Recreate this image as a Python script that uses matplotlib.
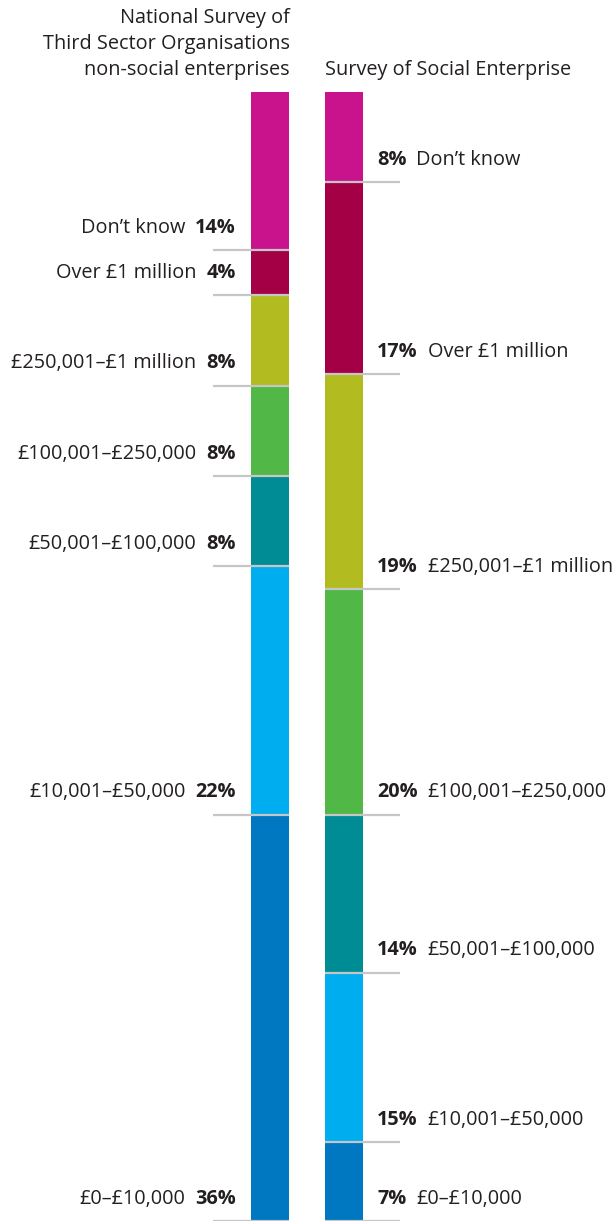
import matplotlib.pyplot as plt

# bands, bottom to top
bands = ["£0–£10,000", "£10,001–£50,000", "£50,001–£100,000",
         "£100,001–£250,000", "£250,001–£1 million", "Over £1 million", "Don’t know"]
colors = ["#0077c1", "#00adee", "#008c95", "#51b848", "#b2bb1f", "#a30046", "#c8138c"]

nsto = [36, 22, 8, 8, 8, 4, 14]   # non-social enterprises
sse = [7, 15, 14, 20, 19, 17, 8]  # social enterprises

header_left = ["National Survey of", "Third Sector Organisations", "non-social enterprises"]
header_right = "Survey of Social Enterprise"

plt.rcParams['font.family'] = ['Open Sans', 'DejaVu Sans']
txt = "#231f20"
grey = "#c6c6c6"

W, H = 616, 1224
fig = plt.figure(figsize=(W / 100, H / 100), dpi=100)
top_px, bot_px = 92, 1221
ax = fig.add_axes([0, (H - bot_px) / H, 1, (bot_px - top_px) / H])
ax.set_xlim(0, W)
ax.set_ylim(0, 100)
ax.axis('off')

renderer = fig.canvas.get_renderer()
fs = 14.3
gap = 10


def draw_bar(values, xc, side):
    bottom = 0
    for v, c, name in zip(values, colors, bands):
        ax.bar(xc, v, width=38, bottom=bottom, color=c, linewidth=0, zorder=1)
        if side == 'left':
            x0, x1 = xc - 57, xc + 19
        else:
            x0, x1 = xc - 19, xc + 56
        ax.plot([x0, x1], [bottom, bottom], color=grey, lw=1.6, zorder=2,
                solid_capstyle='butt')
        if side == 'left':
            p = ax.annotate(f"{v}%", (xc - 34, bottom), xytext=(0, 16),
                            textcoords='offset points', ha='right', va='center',
                            fontsize=fs, fontweight='bold', color=txt)
            bb = p.get_window_extent(renderer)
            ax.annotate(name, (xc - 34, bottom), xytext=(-(bb.width + gap) * 0.72, 16),
                        textcoords='offset points', ha='right', va='center',
                        fontsize=fs, color=txt)
        else:
            p = ax.annotate(f"{v}%", (xc + 33, bottom), xytext=(0, 16),
                            textcoords='offset points', ha='left', va='center',
                            fontsize=fs, fontweight='bold', color=txt)
            bb = p.get_window_extent(renderer)
            ax.annotate(name, (xc + 33, bottom), xytext=((bb.width + gap) * 0.72, 16),
                        textcoords='offset points', ha='left', va='center',
                        fontsize=fs, color=txt)
        bottom += v


draw_bar(nsto, 270, 'left')
draw_bar(sse, 344, 'right')

for i, line in enumerate(header_left):
    fig.text(290 / W, 1 - (23 + 26 * i) / H, line, ha='right', va='baseline',
             fontsize=fs, color=txt)
fig.text(325 / W, 1 - 75 / H, header_right, ha='left', va='baseline',
         fontsize=fs, color=txt)

fig.savefig("out.png", dpi=100)
